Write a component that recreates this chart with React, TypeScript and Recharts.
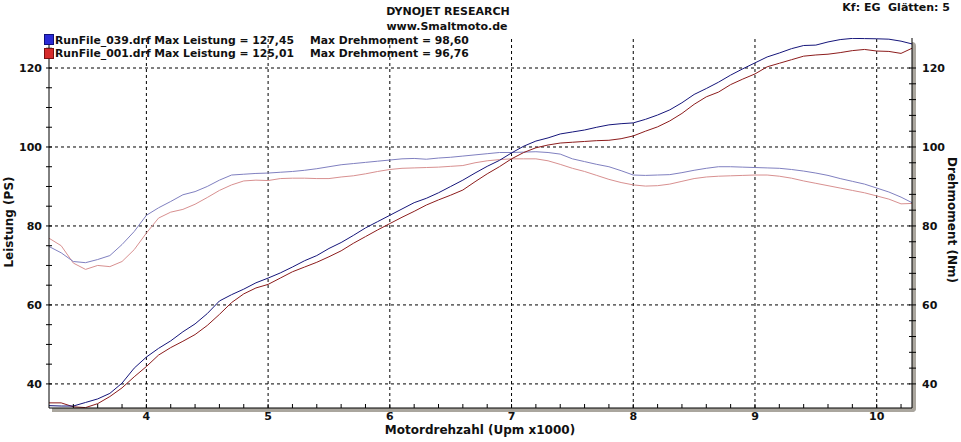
import { LineChart, Line, XAxis, YAxis, ReferenceLine } from 'recharts';

// Drehzahl in Upm x1000
const rpm = [
  3.2, 3.3, 3.4, 3.5, 3.6, 3.7, 3.8, 3.9, 4.0, 4.1, 4.2, 4.3, 4.4, 4.5, 4.6, 4.7, 4.8, 4.9,
  5.0, 5.1, 5.2, 5.3, 5.4, 5.5, 5.6, 5.7, 5.8, 5.9, 6.0, 6.1, 6.2, 6.3, 6.4, 6.5, 6.6, 6.7,
  6.8, 6.9, 7.0, 7.1, 7.2, 7.3, 7.4, 7.5, 7.6, 7.7, 7.8, 7.9, 8.0, 8.1, 8.2, 8.3, 8.4, 8.5,
  8.6, 8.7, 8.8, 8.9, 9.0, 9.1, 9.2, 9.3, 9.4, 9.5, 9.6, 9.7, 9.8, 9.9, 10.0, 10.1, 10.2, 10.29
];

// RunFile_039 Leistung (PS)
const power039 = [
  34.5, 34.4, 34.4, 35.3, 36.2, 37.6, 40.2, 44.0, 46.8, 49.0, 50.9, 53.2, 55.2, 57.8, 61.0, 62.6, 64.0, 65.6,
  66.8, 68.1, 69.6, 71.2, 72.5, 74.3, 75.8, 77.6, 79.5, 81.1, 82.7, 84.3, 85.9, 87.0, 88.4, 90.0, 91.6, 93.4,
  95.1, 96.6, 98.5, 100.2, 101.5, 102.3, 103.3, 103.8, 104.3, 105.0, 105.6, 105.9, 106.1, 107.0, 108.1, 109.4, 111.2, 113.3,
  114.8, 116.4, 118.2, 119.8, 121.3, 122.8, 123.8, 124.9, 125.7, 125.8, 126.6, 127.2, 127.5, 127.45, 127.4, 127.3, 126.8, 126.1
];

// RunFile_001 Leistung (PS)
const power001 = [
  35.2, 35.2, 34.2, 34.0, 35.0, 36.8, 39.0, 41.8, 44.4, 47.3, 49.2, 50.8, 52.5, 54.8, 57.6, 60.6, 62.8, 64.3,
  65.2, 66.8, 68.4, 69.6, 70.8, 72.2, 73.7, 75.6, 77.3, 79.0, 80.6, 82.2, 83.7, 85.3, 86.6, 87.8, 89.1, 91.2,
  93.2, 95.0, 97.0, 98.6, 99.8, 100.5, 101.0, 101.2, 101.4, 101.6, 101.7, 102.1, 102.8, 104.0, 105.1, 106.6, 108.5, 110.8,
  112.7, 113.9, 115.8, 117.2, 118.5, 120.3, 121.2, 122.1, 123.0, 123.3, 123.5, 123.9, 124.4, 124.7, 124.3, 124.2, 123.7, 125.0
];

// RunFile_039 Drehmoment (Nm)
const torque039 = [
  74.8, 73.2, 71.0, 70.7, 71.5, 72.5, 75.3, 78.6, 82.7, 84.6, 86.2, 87.9, 88.7, 90.0, 91.6, 92.9, 93.1, 93.3,
  93.4, 93.6, 93.8, 94.1, 94.5, 95.0, 95.5, 95.8, 96.1, 96.4, 96.7, 97.0, 97.1, 96.9, 97.2, 97.4, 97.7, 98.0,
  98.3, 98.6, 98.6, 98.7, 98.8, 98.6, 98.2, 97.0, 96.3, 95.6, 95.0, 94.0, 92.9, 92.8, 92.9, 93.0, 93.5, 94.1,
  94.6, 95.0, 95.0, 94.9, 94.8, 94.7, 94.6, 94.3, 93.9, 93.4, 92.8, 92.0, 91.3, 90.6, 89.6, 88.6, 87.3, 85.9
];

// RunFile_001 Drehmoment (Nm)
const torque001 = [
  76.9, 75.0, 70.6, 69.0, 70.0, 69.7, 71.0, 74.0, 78.2, 82.0, 83.5, 84.2, 85.5, 87.2, 89.0, 90.4, 91.4, 91.6,
  91.5, 92.0, 92.1, 92.1, 92.0, 92.0, 92.4, 92.7, 93.2, 93.8, 94.3, 94.6, 94.7, 94.8, 94.9, 95.1, 95.3, 96.0,
  96.5, 96.8, 97.0, 97.0, 97.0, 96.5, 95.6, 94.6, 93.8, 92.8, 91.8, 91.0, 90.4, 90.1, 90.2, 90.6, 91.3, 92.0,
  92.4, 92.6, 92.7, 92.8, 92.9, 92.9, 92.6, 92.1, 91.4, 90.8, 90.2, 89.6, 89.0, 88.4, 87.6, 86.8, 85.6, 85.7
];

const xTicks = [3.4, 3.6, 3.8, 4, 4.2, 4.4, 4.6, 4.8, 5, 5.2, 5.4, 5.6, 5.8, 6, 6.2, 6.4, 6.6, 6.8, 7,
  7.2, 7.4, 7.6, 7.8, 8, 8.2, 8.4, 8.6, 8.8, 9, 9.2, 9.4, 9.6, 9.8, 10, 10.2];
const leftTicks = [40, 45, 50, 55, 60, 65, 70, 75, 80, 85, 90, 95, 100, 105, 110, 115, 120, 125];
const rightTicks = [40, 44, 48, 52, 56, 60, 64, 68, 72, 76, 80, 84, 88, 92, 96, 100, 104, 108, 112, 116, 120];
const gridX = [4, 5, 6, 7, 8, 9, 10];
const gridY = [40, 60, 80, 100, 120];

const data = rpm.map((r, i) => ({
  rpm: r,
  p039: power039[i],
  p001: power001[i],
  t039: torque039[i],
  t001: torque001[i]
}));

const font = '"DejaVu Sans", Verdana, sans-serif';

const XTick = (props: any) => {
  const { x, y, payload } = props;
  const v = payload.value;
  const major = Math.abs(v - Math.round(v)) < 0.001;
  return (
    <g>
      <line x1={x} x2={x} y1={y - 4} y2={y} stroke="#000" />
      {major && (
        <text x={x} y={y + 12} textAnchor="middle" fontFamily={font} fontWeight="bold" fontSize={11} fill="#111">
          {Math.round(v)}
        </text>
      )}
    </g>
  );
};

const LeftTick = (props: any) => {
  const { x, y, payload } = props;
  const v = payload.value;
  return (
    <g>
      <line x1={x - 3} x2={x + 3} y1={y} y2={y} stroke="#000" />
      {v % 20 === 0 && (
        <text x={x - 7} y={y + 4} textAnchor="end" fontFamily={font} fontWeight="bold" fontSize={11} fill="#111">
          {v}
        </text>
      )}
    </g>
  );
};

const RightTick = (props: any) => {
  const { x, y, payload } = props;
  const v = payload.value;
  return (
    <g>
      <line x1={x - 3} x2={x + 4} y1={y} y2={y} stroke="#000" />
      {v % 20 === 0 && (
        <text x={x + 10} y={y + 4} textAnchor="start" fontFamily={font} fontWeight="bold" fontSize={11} fill="#111">
          {v}
        </text>
      )}
    </g>
  );
};

const txt = (extra: any) => ({
  position: 'absolute' as const,
  fontFamily: font,
  fontWeight: 'bold' as const,
  color: '#111',
  whiteSpace: 'nowrap' as const,
  lineHeight: 1,
  ...extra
});

export default function App() {
  return (
    <div style={{ position: 'absolute', left: 0, top: 0, width: 961, height: 442, background: '#fff', overflow: 'hidden' }}>
      {/* Schatten unter und rechts vom Diagramm */}
      <div style={{ position: 'absolute', left: 52, top: 408, width: 864, height: 4, background: '#aaa69e', borderRadius: '0 0 5px 0' }} />
      <div style={{ position: 'absolute', left: 912, top: 42, width: 4, height: 370, background: '#aaa69e', borderRadius: '0 4px 4px 0' }} />

      <div style={{ position: 'absolute', left: 0, top: 0 }}>
        <LineChart width={961} height={442} data={data} margin={{ top: 38, right: 0, bottom: 0, left: 0 }}>
          <XAxis
            dataKey="rpm"
            type="number"
            domain={[3.2, 10.29]}
            allowDataOverflow
            ticks={xTicks}
            interval={0}
            tickSize={0}
            tickMargin={0}
            tick={<XTick />}
            axisLine={{ stroke: '#000' }}
            tickLine={false}
            height={34}
          />
          <XAxis
            xAxisId="top"
            orientation="top"
            dataKey="rpm"
            type="number"
            domain={[3.2, 10.29]}
            tick={false}
            tickLine={false}
            height={0}
            axisLine={{ stroke: '#000' }}
          />
          <YAxis
            domain={[33.9, 127.6]}
            allowDataOverflow
            ticks={leftTicks}
            interval={0}
            tickSize={0}
            tickMargin={0}
            tick={<LeftTick />}
            tickLine={false}
            axisLine={{ stroke: '#000' }}
            width={49}
          />
          <YAxis
            yAxisId="right"
            orientation="right"
            domain={[33.9, 127.6]}
            allowDataOverflow
            ticks={rightTicks}
            interval={0}
            tickSize={0}
            tickMargin={0}
            tick={<RightTick />}
            tickLine={false}
            axisLine={{ stroke: '#000' }}
            width={49}
          />
          {gridX.map((g) => (
            <ReferenceLine key={'gx' + g} x={g} stroke="#000" strokeDasharray="3 3" />
          ))}
          {gridY.map((g) => (
            <ReferenceLine key={'gy' + g} y={g} stroke="#000" strokeDasharray="3 3" />
          ))}
          <Line type="linear" dataKey="t001" stroke="#d89090" strokeWidth={1} dot={false} isAnimationActive={false} />
          <Line type="linear" dataKey="t039" stroke="#8080c0" strokeWidth={1} dot={false} isAnimationActive={false} />
          <Line type="linear" dataKey="p001" stroke="#8c1c1c" strokeWidth={1} dot={false} isAnimationActive={false} />
          <Line type="linear" dataKey="p039" stroke="#15157a" strokeWidth={1} dot={false} isAnimationActive={false} />
        </LineChart>
      </div>

      {/* Kopf */}
      <div style={txt({ left: 448, top: 11, fontSize: 11, transform: 'translate(-50%, -50%)' })}>DYNOJET RESEARCH</div>
      <div style={txt({ left: 447, top: 26, fontSize: 11, transform: 'translate(-50%, -50%)' })}>www.Smaltmoto.de</div>
      <div style={txt({ right: 11, top: 7, fontSize: 11, transform: 'translateY(-50%)' })}>Kf: EG&nbsp;&nbsp;Glätten: 5</div>

      {/* Legende */}
      <div style={{ position: 'absolute', left: 44, top: 34, width: 8, height: 9, background: '#2b2bd6', border: '1px solid #10107a' }} />
      <div style={{ position: 'absolute', left: 44, top: 48, width: 8, height: 9, background: '#d62b2b', border: '1px solid #7a1010' }} />
      <div style={txt({ left: 55, top: 36, fontSize: 10.8 })}>RunFile_039.drf Max Leistung = 127,45</div>
      <div style={txt({ left: 310, top: 36, fontSize: 10.8 })}>Max Drehmoment = 98,60</div>
      <div style={txt({ left: 55, top: 49, fontSize: 10.8 })}>RunFile_001.drf Max Leistung = 125,01</div>
      <div style={txt({ left: 310, top: 49, fontSize: 10.8 })}>Max Drehmoment = 96,76</div>

      {/* Achsentitel */}
      <div style={txt({ left: 480, top: 430, fontSize: 12, transform: 'translate(-50%, -50%)' })}>Motordrehzahl (Upm x1000)</div>
      <div style={txt({ left: 9, top: 222, fontSize: 12, transform: 'translate(-50%, -50%) rotate(-90deg)' })}>Leistung (PS)</div>
      <div style={txt({ left: 952, top: 220, fontSize: 12, transform: 'translate(-50%, -50%) rotate(90deg)' })}>Drehmoment (Nm)</div>
    </div>
  );
}
